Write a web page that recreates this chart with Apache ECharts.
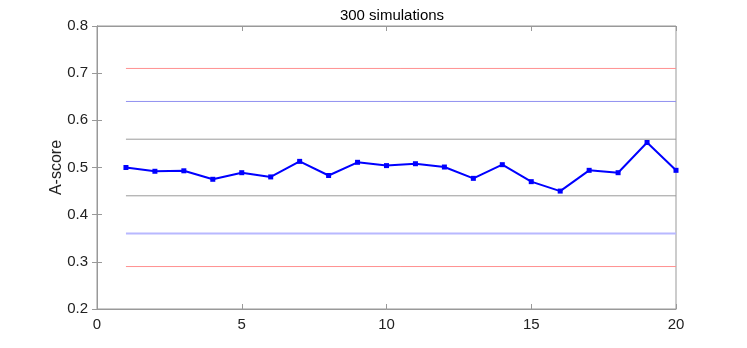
<!DOCTYPE html>
<html>
<head>
<meta charset="utf-8">
<title>300 simulations</title>
<script src="https://cdn.jsdelivr.net/npm/echarts@6/dist/echarts.min.js"></script>
<style>
  html, body { margin: 0; padding: 0; background: #fff; }
  #main { width: 747px; height: 348px; }
</style>
</head>
<body>
<div id="main"></div>
<script>
// data
var runs = [1,2,3,4,5,6,7,8,9,10,11,12,13,14,15,16,17,18,19,20];
var ascore = [0.500,0.492,0.493,0.475,0.489,0.480,0.513,0.483,0.511,0.504,
              0.508,0.501,0.477,0.506,0.470,0.450,0.494,0.489,0.553,0.494];
// horizontal reference levels (start x, end x)
var refSpan = [1, 20];
var redLevels = [0.71, 0.29];
var blueLevels = [0.64];
var lightBlueLevels = [0.36];
var grayLevels = [0.56, 0.44];

var font = 'Liberation Sans, Arial, sans-serif';
var axisGray = '#999999';

function refSeries(level, color, width) {
  return {
    type: 'line',
    data: [[refSpan[0], level], [refSpan[1], level]],
    symbol: 'none',
    silent: true,
    lineStyle: { color: color, width: width },
    z: 1
  };
}

var series = [];
grayLevels.forEach(function (v) { series.push(refSeries(v, '#9a9a9a', 1)); });
redLevels.forEach(function (v) { series.push(refSeries(v, '#ff9090', 1)); });
blueLevels.forEach(function (v) { series.push(refSeries(v, '#9090f0', 1)); });
lightBlueLevels.forEach(function (v) { series.push(refSeries(v, '#b8b8ff', 2)); });
series.push({
  name: 'A-score',
  type: 'line',
  data: runs.map(function (x, i) { return [x, ascore[i]]; }),
  symbol: 'rect',
  symbolSize: 5,
  itemStyle: { color: '#0000ff' },
  lineStyle: { color: '#0000ff', width: 2 },
  z: 5
});

var chart = echarts.init(document.getElementById('main'));
chart.setOption({
  animation: false,
  title: {
    text: '300 simulations',
    left: 387, top: 3, textAlign: 'center',
    textStyle: { fontFamily: font, fontSize: 15, fontWeight: 'normal', color: '#000' }
  },
  grid: { left: 97, right: 71, top: 26, bottom: 39, show: true, borderColor: axisGray, borderWidth: 1 },
  xAxis: [{
    type: 'value', min: 0, max: 20, interval: 5,
    axisLine: { show: true, lineStyle: { color: axisGray } },
    axisTick: { show: true, inside: true, length: 5, lineStyle: { color: axisGray } },
    axisLabel: { fontFamily: font, fontSize: 15, color: '#222', margin: 8 },
    splitLine: { show: false }
  }, {
    type: 'value', min: 0, max: 20, interval: 5, position: 'top',
    axisLine: { show: true, lineStyle: { color: axisGray } },
    axisTick: { show: true, inside: true, length: 5, lineStyle: { color: axisGray } },
    axisLabel: { show: false },
    splitLine: { show: false }
  }],
  yAxis: [{
    type: 'value', min: 0.2, max: 0.8, interval: 0.1,
    name: 'A-score', nameLocation: 'middle', nameGap: 32, nameRotate: 90,
    nameMoveOverlap: false,
    nameTextStyle: { fontFamily: font, fontSize: 16, color: '#222' },
    axisLine: { show: true, lineStyle: { color: axisGray } },
    axisTick: { show: true, inside: true, length: 5, lineStyle: { color: axisGray } },
    axisLabel: { fontFamily: font, fontSize: 15, color: '#222', margin: 9,
                 formatter: function (v) { return v.toFixed(1); } },
    splitLine: { show: false }
  }, {
    type: 'value', min: 0.2, max: 0.8, interval: 0.1, position: 'right',
    axisLine: { show: true, lineStyle: { color: axisGray } },
    axisTick: { show: true, inside: true, length: 5, lineStyle: { color: axisGray } },
    axisLabel: { show: false },
    splitLine: { show: false }
  }],
  series: series
});
</script>
</body>
</html>
